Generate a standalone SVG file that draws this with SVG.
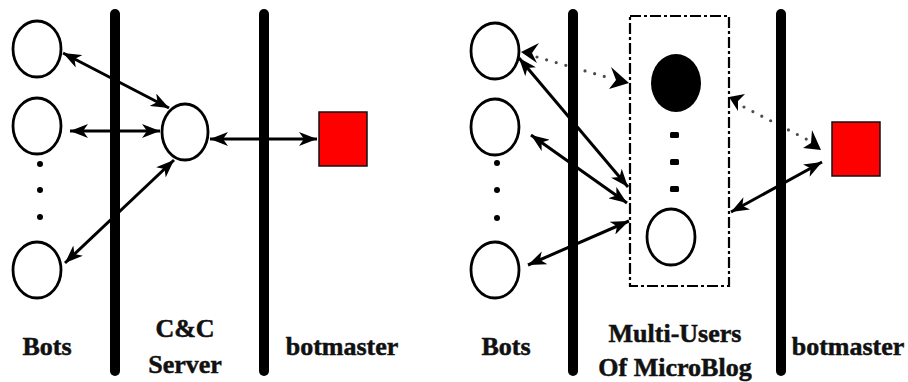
<svg xmlns="http://www.w3.org/2000/svg" width="908" height="382" viewBox="0 0 908 382">
  <style>
    .bar { stroke: #000; stroke-width: 10; stroke-linecap: round; }
    .node { fill: #fff; stroke: #000; stroke-width: 2.8; }
    .master { fill: #f00; stroke: #111; stroke-width: 1.5; }
    .link { stroke: #000; stroke-width: 3; fill: none; }
    .dotted { stroke: #000; stroke-width: 3.2; fill: none; stroke-dasharray: 0 10; stroke-linecap: round; opacity: 0.7; }
    .frame { fill: none; stroke: #000; stroke-width: 2.2; stroke-dasharray: 11 3 3 3; }
    .label { font-family: "Liberation Serif", "Times New Roman", serif; font-weight: bold; font-size: 26px; fill: #111; text-anchor: middle; stroke: #111; stroke-width: 0.5; }
  </style>
  <defs>
    <marker id="arrow" viewBox="0 0 18 14" refX="18" refY="7" markerWidth="18" markerHeight="14" markerUnits="userSpaceOnUse" orient="auto-start-reverse">
      <path d="M0,0 L18,7 L0,14 L5,7 z" fill="#000"/>
    </marker>
  </defs>

  <rect width="908" height="382" fill="#fff"/>

  <!-- left panel: central C&C server -->
  <g id="bars-left">
    <line class="bar" x1="115" y1="14" x2="115" y2="371"/>
    <line class="bar" x1="264" y1="14" x2="264" y2="371"/>
  </g>
  <g id="bot-l1"><ellipse class="node" cx="37" cy="49" rx="24" ry="28"/></g>
  <g id="bot-l2"><ellipse class="node" cx="37" cy="126" rx="24" ry="28"/></g>
  <g id="bot-l-more">
    <circle cx="40" cy="164" r="3"/>
    <circle cx="40" cy="190" r="3"/>
    <circle cx="40" cy="217" r="3"/>
  </g>
  <g id="bot-l3"><ellipse class="node" cx="37" cy="270" rx="24" ry="28"/></g>
  <g id="cc-server"><ellipse class="node" cx="185" cy="132" rx="23" ry="28"/></g>
  <g id="botmaster-l"><rect class="master" x="319" y="112" width="48" height="54"/></g>

  <g id="connectors-left">
    <line class="link" x1="63" y1="53" x2="169" y2="108" marker-start="url(#arrow)" marker-end="url(#arrow)"/>
    <line class="link" x1="70" y1="131" x2="160" y2="131" marker-start="url(#arrow)" marker-end="url(#arrow)"/>
    <line class="link" x1="210" y1="139" x2="317" y2="139" marker-start="url(#arrow)" marker-end="url(#arrow)"/>
    <line class="link" x1="174" y1="160" x2="65" y2="263" marker-start="url(#arrow)" marker-end="url(#arrow)"/>
  </g>

  <g id="labels-left">
    <text class="label" x="47" y="355">Bots</text>
    <text class="label" x="185" y="337">C&amp;C</text>
    <text class="label" x="185" y="373">Server</text>
    <text class="label" x="342" y="355">botmaster</text>
  </g>

  <!-- right panel: microblog users as relays -->
  <g id="bars-right">
    <line class="bar" x1="573" y1="14" x2="573" y2="371"/>
    <line class="bar" x1="781" y1="14" x2="781" y2="371"/>
  </g>
  <g id="microblog">
    <rect class="frame" x="630" y="16" width="99" height="270"/>
  </g>
  <g id="bot-r1"><ellipse class="node" cx="495" cy="51" rx="24" ry="28"/></g>
  <g id="bot-r2"><ellipse class="node" cx="495" cy="127" rx="24" ry="28"/></g>
  <g id="bot-r-more">
    <circle cx="497" cy="163" r="3"/>
    <circle cx="497" cy="190" r="3"/>
    <circle cx="497" cy="218" r="3"/>
  </g>
  <g id="bot-r3"><ellipse class="node" cx="495" cy="270" rx="24" ry="28"/></g>
  <g id="user-active"><ellipse cx="676" cy="83" rx="25" ry="29" fill="#000"/></g>
  <g id="user-more">
    <rect x="670" y="132" width="9" height="6" rx="1.5"/>
    <rect x="670" y="159" width="9" height="6" rx="1.5"/>
    <rect x="670" y="186" width="9" height="6" rx="1.5"/>
  </g>
  <g id="user-r"><ellipse class="node" cx="671" cy="237" rx="24" ry="28"/></g>
  <g id="botmaster-r"><rect class="master" x="832" y="122" width="48" height="54"/></g>

  <g id="connectors-right">
    <line class="dotted" x1="537" y1="57" x2="613" y2="79"/>
    <path d="M539,43 L521,52 L537,63 L532,53 z" fill="#000"/>
    <path d="M611,67 L629,83 L609,89 L616,80 z" fill="#000"/>
    <line class="dotted" x1="744" y1="107" x2="808" y2="140"/>
    <path d="M745,94 L729,97 L738,111 L738,101 z" fill="#000"/>
    <path d="M812,130 L821,150 L803,148 L811,143 z" fill="#000"/>
    <line class="link" x1="519" y1="58" x2="628" y2="187" marker-start="url(#arrow)" marker-end="url(#arrow)"/>
    <line class="link" x1="531" y1="135" x2="627" y2="203" marker-start="url(#arrow)" marker-end="url(#arrow)"/>
    <line class="link" x1="528" y1="265" x2="629" y2="221" marker-start="url(#arrow)" marker-end="url(#arrow)"/>
    <line class="link" x1="731" y1="212" x2="822" y2="162" marker-start="url(#arrow)" marker-end="url(#arrow)"/>
  </g>

  <g id="labels-right">
    <text class="label" x="506" y="355">Bots</text>
    <text class="label" x="675" y="342">Multi-Users</text>
    <text class="label" x="675" y="376">Of MicroBlog</text>
    <text class="label" x="848" y="355">botmaster</text>
  </g>
</svg>
